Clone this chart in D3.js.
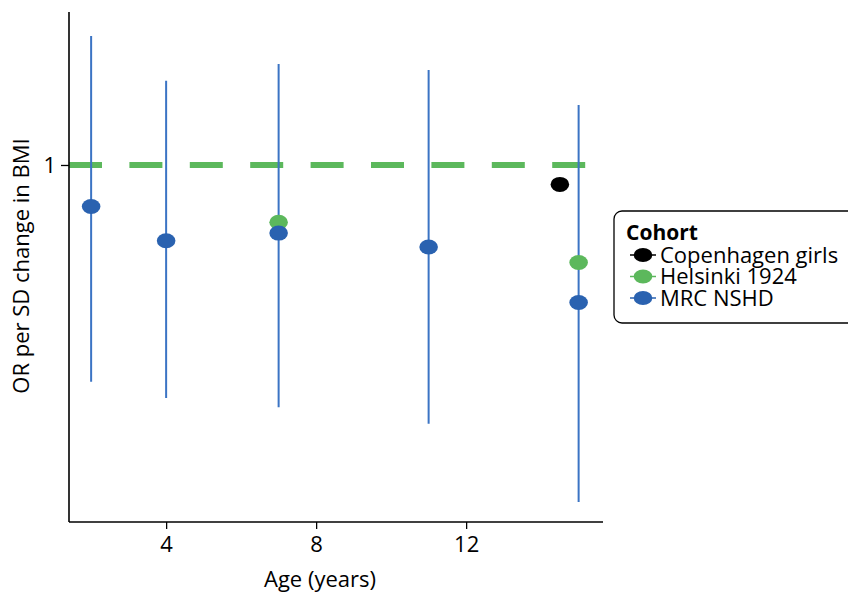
<!DOCTYPE html>
<html>
<head>
<meta charset="utf-8">
<script src="https://cdn.jsdelivr.net/npm/d3@7"></script>
<style>
  html, body { margin: 0; padding: 0; background: #fff; }
  svg { display: block; font-family: "Open Sans", "Noto Sans", sans-serif; }
</style>
</head>
<body>
<svg id="chart" width="848" height="592"></svg>
<script>
// Cohorts and their colours
const cohorts = ["Copenhagen girls", "Helsinki 1924", "MRC NSHD"];
const cohortColors = ["#000000", "#5cb85c", "#2a62b0"];

// Odds ratio per SD change in BMI, by age at measurement
const copenhagenAges = [14.5];
const copenhagenOR = [0.933];

const helsinkiAges = [7, 15];
const helsinkiOR = [0.815, 0.706];

const nshdAges = [2, 4, 7, 11, 15];
const nshdOR = [0.862, 0.763, 0.784, 0.746, 0.612];
const nshdLower = [0.461, 0.435, 0.421, 0.397, 0.300];
const nshdUpper = [1.585, 1.351, 1.434, 1.404, 1.239];

const xTicks = [4, 8, 12];
const yTicks = [1];
const referenceOR = 1;

const svg = d3.select("#chart");
const plotLeft = 69, plotRight = 603, plotTop = 12, plotBottom = 522;
const fontSize = 22;

const x = d3.scaleLinear().domain([1.41, 15.65]).range([plotLeft, plotRight]);
const y = d3.scaleLog().domain([0.2794, 1.727]).range([plotBottom, plotTop]);

// Reference line at OR = 1
svg.append("line")
  .attr("x1", plotLeft).attr("x2", plotRight)
  .attr("y1", y(referenceOR)).attr("y2", y(referenceOR))
  .attr("stroke", "#5cb85c")
  .attr("stroke-width", 6)
  .attr("stroke-dasharray", "33,27.4");

// Confidence intervals
const nshd = nshdAges.map((a, i) => ({ age: a, or: nshdOR[i], lo: nshdLower[i], hi: nshdUpper[i] }));
svg.append("g").selectAll("line").data(nshd).join("line")
  .attr("x1", d => x(d.age)).attr("x2", d => x(d.age))
  .attr("y1", d => y(d.lo)).attr("y2", d => y(d.hi))
  .attr("stroke", "#3b74c4")
  .attr("stroke-width", 2);

// Point estimates
const points = [
  ...copenhagenAges.map((a, i) => ({ age: a, or: copenhagenOR[i], c: 0 })),
  ...helsinkiAges.map((a, i) => ({ age: a, or: helsinkiOR[i], c: 1 })),
  ...nshdAges.map((a, i) => ({ age: a, or: nshdOR[i], c: 2 }))
];
svg.append("g").selectAll("ellipse").data(points).join("ellipse")
  .attr("cx", d => x(d.age)).attr("cy", d => y(d.or))
  .attr("rx", 9.3).attr("ry", 7.5)
  .attr("fill", d => cohortColors[d.c]);

// Axes
const xAxis = svg.append("g")
  .attr("transform", `translate(0,${plotBottom})`)
  .call(d3.axisBottom(x).tickValues(xTicks).tickSize(7).tickPadding(7).tickSizeOuter(0));
const yAxis = svg.append("g")
  .attr("transform", `translate(${plotLeft},0)`)
  .call(d3.axisLeft(y).tickValues(yTicks).tickFormat(d3.format("d")).tickSize(8).tickPadding(5).tickSizeOuter(0));

[xAxis, yAxis].forEach(g => {
  g.select(".domain").attr("stroke", "#000").attr("stroke-width", 1.6);
  g.selectAll(".tick line").attr("stroke", "#000").attr("stroke-width", 1.3);
  g.selectAll(".tick text").attr("fill", "#000").attr("font-size", fontSize)
    .attr("font-family", "'Open Sans', 'Noto Sans', sans-serif");
});
// axis lines span the full panel
xAxis.select(".domain").attr("d", `M${plotLeft},0H${plotRight}`);
yAxis.select(".domain").attr("d", `M0,${plotTop}V${plotBottom}`);

// Axis titles
svg.append("text")
  .attr("x", 320).attr("y", 587)
  .attr("text-anchor", "middle")
  .attr("font-size", fontSize)
  .text("Age (years)");
svg.append("text")
  .attr("transform", "translate(29,266) rotate(-90)")
  .attr("text-anchor", "middle")
  .attr("font-size", fontSize)
  .text("OR per SD change in BMI");

// Legend
const lg = svg.append("g").attr("transform", "translate(614,211)");
lg.append("rect")
  .attr("x", 0).attr("y", 0).attr("width", 250).attr("height", 112)
  .attr("rx", 8).attr("ry", 8)
  .attr("fill", "#fff").attr("stroke", "#000").attr("stroke-width", 1.3);
lg.append("text")
  .attr("x", 12).attr("y", 29)
  .attr("font-size", 21).attr("font-weight", "bold")
  .text("Cohort");
cohorts.forEach((name, i) => {
  const cy = 44 + i * 21.5;
  lg.append("line")
    .attr("x1", 16).attr("x2", 42).attr("y1", cy).attr("y2", cy)
    .attr("stroke", cohortColors[i]).attr("stroke-width", 1.5);
  lg.append("ellipse")
    .attr("cx", 29).attr("cy", cy).attr("rx", 9.3).attr("ry", 7)
    .attr("fill", cohortColors[i]);
  lg.append("text")
    .attr("x", 46).attr("y", cy + 7.8)
    .attr("font-size", fontSize)
    .text(name);
});
</script>
</body>
</html>
